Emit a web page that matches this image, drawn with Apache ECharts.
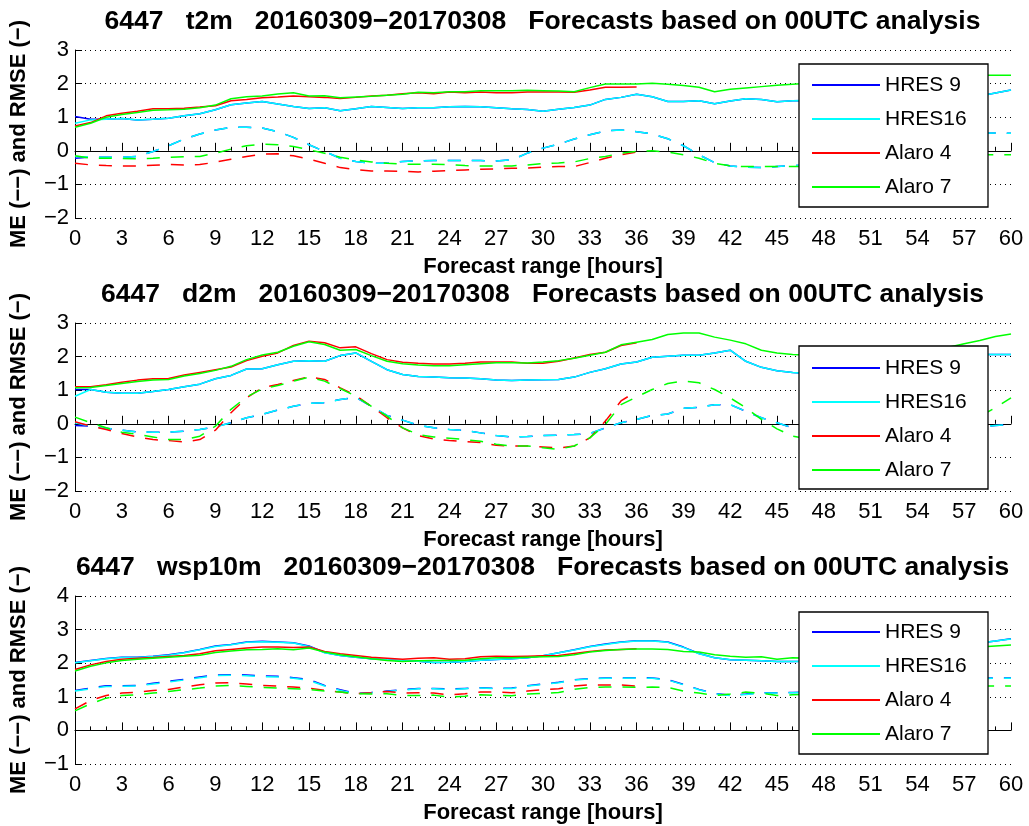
<!DOCTYPE html>
<html>
<head>
<meta charset="utf-8">
<script src="https://cdn.jsdelivr.net/npm/echarts@6/dist/echarts.min.js"></script>
<style>
html,body{margin:0;padding:0;background:#fff;}
#chart{width:1029px;height:826px;}
</style>
</head>
<body>
<div id="chart"></div>
<script>
// ---------- DATA ----------
const hours = [0,1,2,3,4,5,6,7,8,9,10,11,12,13,14,15,16,17,18,19,20,21,22,23,24,25,26,27,28,29,30,
  31,32,33,34,35,36,37,38,39,40,41,42,43,44,45,46,47,48,49,50,51,52,53,54,55,56,57,58,59,60];
const models = ['HRES 9', 'HRES16', 'Alaro 4', 'Alaro 7'];
const panelTitles = [
  '6447   t2m   20160309\u221220170308   Forecasts based on 00UTC analysis',
  '6447   d2m   20160309\u221220170308   Forecasts based on 00UTC analysis',
  '6447   wsp10m   20160309\u221220170308   Forecasts based on 00UTC analysis'
];
const xAxisTitle = 'Forecast range [hours]';
const yAxisTitle = 'ME (\u2212\u2212) and RMSE (\u2212)';
const yRanges = [[-2, 3], [-2, 3], [-1, 4]];

// ---- t2m ----
const t2m_rmse_hres9 = [1.02,0.94,0.94,0.96,0.92,0.94,0.97,1.04,1.10,1.22,1.37,1.42,1.47,1.39,1.32,1.26,1.28,1.19,1.25,1.32,1.29,1.26,1.28,1.28,1.31,1.32,1.31,1.28,1.25,1.23,1.18,1.24,1.29,1.36,1.53,1.59,1.68,1.61,1.47,1.47,1.49,1.40,1.48,1.55,1.53,1.46,1.49,1.50,1.48,1.45,1.47,1.50,1.48,1.46,1.50,1.52,1.55,1.57,1.63,1.72,1.81];
const t2m_rmse_hres16 = [0.82,0.92,0.94,0.96,0.92,0.94,0.97,1.04,1.10,1.22,1.37,1.42,1.47,1.39,1.32,1.26,1.28,1.19,1.25,1.32,1.29,1.26,1.28,1.28,1.31,1.32,1.31,1.28,1.25,1.23,1.18,1.24,1.29,1.36,1.53,1.59,1.68,1.61,1.47,1.47,1.49,1.40,1.48,1.55,1.53,1.46,1.49,1.50,1.48,1.45,1.47,1.50,1.48,1.46,1.50,1.52,1.55,1.57,1.63,1.72,1.81];
const t2m_rmse_alaro4 = [0.74,0.84,1.04,1.12,1.18,1.25,1.25,1.27,1.30,1.34,1.49,1.53,1.58,1.60,1.63,1.61,1.59,1.56,1.59,1.63,1.65,1.70,1.73,1.70,1.75,1.73,1.75,1.73,1.73,1.75,1.75,1.75,1.74,1.81,1.89,1.89,1.90];
const t2m_rmse_alaro7 = [0.70,0.82,1.00,1.08,1.14,1.21,1.22,1.24,1.28,1.36,1.55,1.61,1.63,1.69,1.73,1.63,1.64,1.58,1.60,1.62,1.65,1.68,1.74,1.73,1.76,1.76,1.79,1.79,1.79,1.80,1.79,1.78,1.76,1.88,1.99,1.99,1.99,2.01,1.98,1.94,1.89,1.76,1.83,1.87,1.91,1.95,1.98,2.01,2.02,2.00,2.03,2.05,2.08,2.10,2.12,2.15,2.18,2.22,2.25,2.25,2.25];
const t2m_me_hres9 = [-0.22,-0.19,-0.19,-0.19,-0.17,-0.02,0.15,0.35,0.50,0.62,0.70,0.70,0.68,0.57,0.40,0.18,-0.02,-0.22,-0.32,-0.37,-0.37,-0.32,-0.30,-0.29,-0.29,-0.29,-0.29,-0.30,-0.27,-0.07,0.08,0.20,0.35,0.48,0.59,0.62,0.57,0.50,0.36,0.15,-0.12,-0.35,-0.45,-0.49,-0.50,-0.47,-0.44,-0.42,-0.40,-0.38,-0.37,-0.36,-0.35,-0.15,0.05,0.25,0.38,0.47,0.52,0.53,0.52];
const t2m_me_hres16 = [-0.17,-0.19,-0.19,-0.19,-0.17,-0.02,0.15,0.35,0.50,0.62,0.70,0.70,0.68,0.57,0.40,0.18,-0.02,-0.22,-0.32,-0.37,-0.37,-0.32,-0.30,-0.29,-0.29,-0.29,-0.29,-0.30,-0.27,-0.07,0.08,0.20,0.35,0.48,0.59,0.62,0.57,0.50,0.36,0.15,-0.12,-0.35,-0.45,-0.49,-0.50,-0.47,-0.44,-0.42,-0.40,-0.38,-0.37,-0.36,-0.35,-0.15,0.05,0.25,0.38,0.47,0.52,0.53,0.52];
const t2m_me_alaro4 = [-0.37,-0.42,-0.44,-0.45,-0.45,-0.43,-0.41,-0.42,-0.41,-0.34,-0.25,-0.17,-0.10,-0.09,-0.15,-0.25,-0.37,-0.50,-0.56,-0.60,-0.60,-0.61,-0.63,-0.61,-0.59,-0.57,-0.55,-0.54,-0.52,-0.51,-0.49,-0.47,-0.47,-0.35,-0.22,-0.12,-0.04];
const t2m_me_alaro7 = [-0.15,-0.22,-0.22,-0.23,-0.24,-0.22,-0.19,-0.18,-0.17,-0.07,0.05,0.15,0.20,0.18,0.13,0.03,-0.07,-0.19,-0.27,-0.33,-0.37,-0.40,-0.40,-0.40,-0.41,-0.44,-0.45,-0.45,-0.45,-0.42,-0.38,-0.36,-0.33,-0.23,-0.17,-0.07,-0.02,0.00,-0.04,-0.12,-0.22,-0.37,-0.45,-0.47,-0.47,-0.47,-0.47,-0.46,-0.45,-0.44,-0.43,-0.42,-0.40,-0.35,-0.28,-0.22,-0.17,-0.14,-0.12,-0.12,-0.12];

// ---- d2m ----
const d2m_rmse_hres9 = [1.02,1.02,0.94,0.91,0.91,0.96,1.02,1.10,1.18,1.34,1.44,1.63,1.64,1.76,1.86,1.88,1.86,2.03,2.11,1.86,1.61,1.47,1.41,1.39,1.37,1.36,1.34,1.30,1.29,1.30,1.31,1.32,1.39,1.53,1.64,1.78,1.84,1.98,2.01,2.04,2.04,2.11,2.19,1.86,1.68,1.58,1.53,1.50,1.48,1.47,1.48,1.52,1.58,1.65,1.75,1.85,1.93,2.00,2.06,2.06,2.06];
const d2m_rmse_hres16 = [0.82,1.02,0.94,0.91,0.91,0.96,1.02,1.10,1.18,1.34,1.44,1.63,1.64,1.76,1.86,1.88,1.86,2.03,2.11,1.86,1.61,1.47,1.41,1.39,1.37,1.36,1.34,1.30,1.29,1.30,1.31,1.32,1.39,1.53,1.64,1.78,1.84,1.98,2.01,2.04,2.04,2.11,2.19,1.86,1.68,1.58,1.53,1.50,1.48,1.47,1.48,1.52,1.58,1.65,1.75,1.85,1.93,2.00,2.06,2.06,2.06];
const d2m_rmse_alaro4 = [1.10,1.10,1.16,1.24,1.30,1.34,1.35,1.45,1.53,1.61,1.69,1.88,2.01,2.11,2.33,2.46,2.41,2.26,2.29,2.09,1.91,1.83,1.80,1.78,1.78,1.80,1.84,1.84,1.84,1.80,1.80,1.86,1.96,2.06,2.13,2.33,2.41];
const d2m_rmse_alaro7 = [1.07,1.08,1.14,1.20,1.26,1.30,1.32,1.42,1.50,1.59,1.71,1.91,2.05,2.13,2.31,2.44,2.36,2.19,2.21,2.03,1.86,1.79,1.75,1.73,1.73,1.76,1.79,1.82,1.82,1.81,1.84,1.88,1.95,2.04,2.13,2.35,2.43,2.51,2.66,2.70,2.70,2.58,2.49,2.38,2.19,2.11,2.06,2.04,2.02,2.00,1.99,2.00,2.02,2.06,2.12,2.20,2.28,2.38,2.48,2.60,2.67];
const d2m_me_hres9 = [-0.05,-0.07,-0.13,-0.19,-0.24,-0.25,-0.25,-0.22,-0.17,-0.09,0.03,0.18,0.28,0.41,0.52,0.61,0.63,0.72,0.79,0.52,0.25,0.11,-0.04,-0.12,-0.17,-0.20,-0.27,-0.35,-0.39,-0.38,-0.35,-0.34,-0.32,-0.29,-0.12,0.03,0.13,0.25,0.29,0.46,0.49,0.57,0.57,0.37,0.18,0.03,-0.12,-0.18,-0.22,-0.26,-0.30,-0.33,-0.35,-0.36,-0.33,-0.28,-0.22,-0.15,-0.10,-0.05,-0.02];
const d2m_me_hres16 = [0.03,-0.07,-0.13,-0.19,-0.24,-0.25,-0.25,-0.22,-0.17,-0.09,0.03,0.18,0.28,0.41,0.52,0.61,0.63,0.72,0.79,0.52,0.25,0.11,-0.04,-0.12,-0.17,-0.20,-0.27,-0.35,-0.39,-0.38,-0.35,-0.34,-0.32,-0.29,-0.12,0.03,0.13,0.25,0.29,0.46,0.49,0.57,0.57,0.37,0.18,0.03,-0.12,-0.18,-0.22,-0.26,-0.30,-0.33,-0.35,-0.36,-0.33,-0.28,-0.22,-0.15,-0.10,-0.05,-0.02];
const d2m_me_alaro4 = [0.06,-0.07,-0.17,-0.29,-0.39,-0.47,-0.50,-0.54,-0.47,-0.19,0.33,0.77,1.07,1.17,1.29,1.40,1.32,1.07,0.84,0.52,0.18,-0.12,-0.35,-0.45,-0.50,-0.53,-0.56,-0.64,-0.66,-0.66,-0.69,-0.72,-0.66,-0.42,0.08,0.68,0.97];
const d2m_me_alaro7 = [0.20,0.03,-0.12,-0.25,-0.31,-0.39,-0.47,-0.47,-0.37,-0.07,0.43,0.80,1.04,1.14,1.27,1.39,1.27,1.05,0.82,0.52,0.23,-0.12,-0.32,-0.39,-0.43,-0.47,-0.52,-0.61,-0.66,-0.66,-0.71,-0.76,-0.66,-0.42,-0.02,0.57,0.80,1.02,1.20,1.27,1.22,1.02,0.77,0.48,0.13,-0.15,-0.37,-0.45,-0.50,-0.53,-0.55,-0.55,-0.52,-0.45,-0.35,-0.20,0.00,0.10,0.22,0.48,0.77];

// ---- wsp10m ----
const wsp_rmse_hres9 = [2.02,2.08,2.14,2.18,2.18,2.21,2.25,2.32,2.41,2.51,2.56,2.63,2.65,2.63,2.61,2.51,2.32,2.23,2.18,2.13,2.10,2.07,2.06,2.02,2.03,2.05,2.09,2.11,2.13,2.16,2.22,2.31,2.40,2.50,2.57,2.63,2.67,2.67,2.63,2.48,2.29,2.16,2.10,2.09,2.07,2.05,2.05,2.06,2.08,2.10,2.13,2.18,2.24,2.30,2.37,2.44,2.50,2.55,2.60,2.66,2.73];
const wsp_rmse_hres16 = [2.01,2.07,2.13,2.17,2.17,2.20,2.24,2.31,2.40,2.50,2.55,2.62,2.64,2.62,2.60,2.50,2.31,2.23,2.18,2.13,2.10,2.07,2.06,2.02,2.03,2.05,2.09,2.11,2.13,2.16,2.22,2.31,2.39,2.49,2.56,2.62,2.66,2.66,2.62,2.47,2.28,2.16,2.10,2.09,2.07,2.05,2.05,2.06,2.08,2.10,2.13,2.18,2.24,2.30,2.37,2.44,2.50,2.55,2.60,2.66,2.72];
const wsp_rmse_alaro4 = [1.81,1.95,2.05,2.12,2.15,2.17,2.20,2.23,2.28,2.37,2.41,2.45,2.48,2.48,2.47,2.48,2.35,2.28,2.23,2.18,2.15,2.12,2.15,2.16,2.12,2.13,2.19,2.21,2.20,2.21,2.22,2.23,2.29,2.35,2.39,2.41,2.43];
const wsp_rmse_alaro7 = [1.77,1.91,2.01,2.08,2.12,2.15,2.18,2.21,2.24,2.32,2.36,2.40,2.41,2.43,2.40,2.45,2.33,2.25,2.19,2.13,2.08,2.05,2.07,2.08,2.08,2.09,2.13,2.16,2.16,2.18,2.19,2.20,2.25,2.33,2.38,2.41,2.42,2.42,2.41,2.35,2.33,2.25,2.21,2.18,2.19,2.12,2.16,2.15,2.16,2.18,2.20,2.23,2.27,2.31,2.35,2.39,2.43,2.46,2.48,2.51,2.54];
const wsp_me_hres9 = [1.19,1.26,1.33,1.33,1.34,1.40,1.46,1.52,1.59,1.65,1.66,1.65,1.62,1.61,1.57,1.51,1.34,1.21,1.10,1.13,1.17,1.21,1.25,1.25,1.23,1.25,1.27,1.25,1.26,1.33,1.38,1.43,1.51,1.54,1.56,1.56,1.57,1.56,1.51,1.37,1.22,1.10,1.05,1.08,1.12,1.12,1.13,1.14,1.16,1.18,1.21,1.25,1.29,1.33,1.38,1.43,1.48,1.52,1.55,1.56,1.56];
const wsp_me_hres16 = [1.17,1.24,1.31,1.31,1.32,1.38,1.44,1.50,1.57,1.63,1.64,1.63,1.60,1.59,1.55,1.49,1.32,1.19,1.09,1.12,1.16,1.20,1.24,1.24,1.22,1.24,1.26,1.24,1.25,1.32,1.37,1.42,1.50,1.53,1.55,1.55,1.56,1.55,1.50,1.36,1.21,1.09,1.04,1.07,1.11,1.11,1.12,1.13,1.15,1.17,1.20,1.24,1.28,1.32,1.37,1.42,1.47,1.51,1.54,1.55,1.55];
const wsp_me_alaro4 = [0.64,0.89,1.04,1.11,1.14,1.19,1.22,1.29,1.36,1.41,1.42,1.38,1.34,1.32,1.29,1.26,1.19,1.14,1.09,1.12,1.16,1.11,1.12,1.11,1.06,1.09,1.14,1.14,1.12,1.17,1.21,1.24,1.32,1.36,1.35,1.35,1.32];
const wsp_me_alaro7 = [0.58,0.79,0.96,1.04,1.06,1.11,1.16,1.21,1.26,1.32,1.34,1.31,1.28,1.26,1.24,1.22,1.17,1.14,1.09,1.08,1.09,1.04,1.04,1.05,0.99,1.02,1.06,1.04,1.03,1.08,1.10,1.13,1.22,1.28,1.29,1.29,1.28,1.29,1.28,1.17,1.11,1.04,1.08,1.14,1.11,1.04,1.06,1.07,1.08,1.09,1.11,1.13,1.16,1.19,1.22,1.25,1.28,1.30,1.32,1.32,1.32];

const panelData = [
  { rmse: [t2m_rmse_hres9, t2m_rmse_hres16, t2m_rmse_alaro4, t2m_rmse_alaro7],
    me:   [t2m_me_hres9, t2m_me_hres16, t2m_me_alaro4, t2m_me_alaro7] },
  { rmse: [d2m_rmse_hres9, d2m_rmse_hres16, d2m_rmse_alaro4, d2m_rmse_alaro7],
    me:   [d2m_me_hres9, d2m_me_hres16, d2m_me_alaro4, d2m_me_alaro7] },
  { rmse: [wsp_rmse_hres9, wsp_rmse_hres16, wsp_rmse_alaro4, wsp_rmse_alaro7],
    me:   [wsp_me_hres9, wsp_me_hres16, wsp_me_alaro4, wsp_me_alaro7] }
];

// ---------- LAYOUT / STYLE ----------
const colors = ['#0000ff', '#00ffff', '#ff0000', '#00ff00'];
const FONT = '"Liberation Sans", Arial, Helvetica, sans-serif';
const gridTops = [50, 323, 596];
const gridH = 168;
const gridLeft = 74, gridRight = 1011;
const legendBoxes = [[799, 64, 189, 143], [799, 346, 189, 143], [799, 612, 189, 142]];
const legendTops = [74, 357, 621];

function pairs(arr) { return arr.map((v, i) => [hours[i], v]); }
const minusFmt = v => String(v).replace('-', '\u2212');

const grids = [], xAxes = [], yAxes = [], series = [], legends = [], graphics = [];
for (let p = 0; p < 3; p++) {
  grids.push({ left: gridLeft, width: gridRight - gridLeft, top: gridTops[p], height: gridH, containLabel: false });
  xAxes.push({
    type: 'value', gridIndex: p, min: 0, max: 60, interval: 3,
    axisLine: { show: true, lineStyle: { color: '#000', width: 1 } },
    axisTick: { show: true, inside: true, length: 8, lineStyle: { color: '#000' } },
    minorTick: { show: true, splitNumber: 3, length: 4, lineStyle: { color: '#000' } },
    splitLine: { show: false },
    axisLabel: { color: '#000', fontSize: 22, fontFamily: FONT, margin: 10, formatter: minusFmt },
    name: xAxisTitle, nameLocation: 'middle', nameGap: 38,
    nameTextStyle: { color: '#000', fontSize: 22, fontWeight: 'bold', fontFamily: FONT }
  });
  yAxes.push({
    type: 'value', gridIndex: p, min: yRanges[p][0], max: yRanges[p][1], interval: 1,
    axisLine: { show: true, lineStyle: { color: '#000', width: 1 } },
    axisTick: { show: true, inside: true, length: 7, lineStyle: { color: '#000' } },
    splitLine: { show: true, lineStyle: { color: '#000', width: 1, type: [1, 4] } },
    axisLabel: { color: '#000', fontSize: 22, fontFamily: FONT, margin: 6, formatter: minusFmt },
    name: yAxisTitle, nameLocation: 'middle', nameGap: 45,
    nameTextStyle: { color: '#000', fontSize: 22, fontWeight: 'bold', fontFamily: FONT }
  });
  for (let m = 0; m < 4; m++) {
    series.push({
      type: 'line', name: models[m], xAxisIndex: p, yAxisIndex: p,
      data: pairs(panelData[p].rmse[m]), showSymbol: false, symbol: 'none',
      color: colors[m], lineStyle: { color: colors[m], width: 1.5, type: 'solid' },
      silent: true, animation: false, z: 2
    });
    series.push({
      type: 'line', name: models[m], xAxisIndex: p, yAxisIndex: p,
      data: pairs(panelData[p].me[m]), showSymbol: false, symbol: 'none',
      color: colors[m], lineStyle: { color: colors[m], width: 1.5, type: [13, 11] },
      silent: true, animation: false, z: 2
    });
  }
  legends.push({
    data: models, orient: 'vertical', left: 812, top: legendTops[p],
    icon: 'rect', itemWidth: 68, itemHeight: 2, itemGap: 12, padding: 0,
    selectedMode: false, z: 5,
    textStyle: { color: '#000', fontSize: 21, fontFamily: FONT, lineHeight: 22 }
  });
  const b = legendBoxes[p];
  graphics.push({
    type: 'rect', z: 4, silent: true,
    shape: { x: b[0], y: b[1], width: b[2], height: b[3] },
    style: { fill: '#fff', stroke: '#000', lineWidth: 1.3 }
  });
  graphics.push({
    type: 'text', z: 5, silent: true, x: (gridLeft + gridRight) / 2, y: 22 + 273 * p,
    style: { text: panelTitles[p], fill: '#000', font: 'bold 26.5px ' + FONT, textAlign: 'center', textVerticalAlign: 'middle' }
  });
}

const chart = echarts.init(document.getElementById('chart'), null, { renderer: 'canvas' });
chart.setOption({
  backgroundColor: '#fff',
  animation: false,
  textStyle: { fontFamily: FONT },
  grid: grids, xAxis: xAxes, yAxis: yAxes, series: series, legend: legends,
  graphic: { elements: graphics }
});
</script>
</body>
</html>
